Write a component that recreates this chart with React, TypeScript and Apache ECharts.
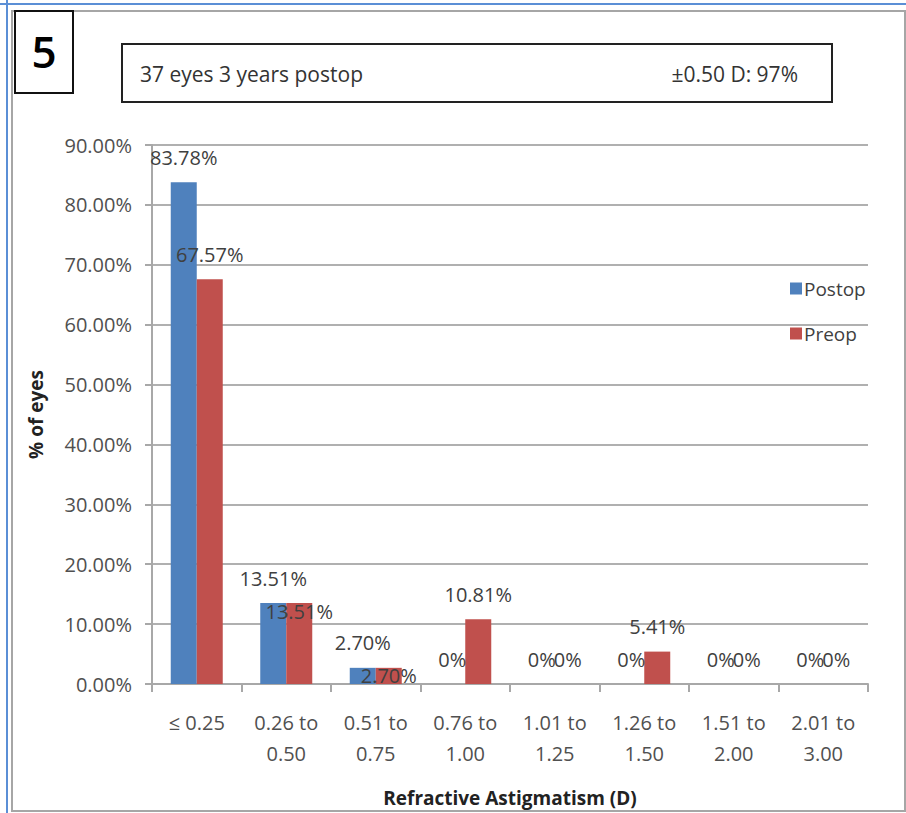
import React, { useEffect, useRef } from "react";
import * as echarts from "echarts";

const categories = [
  "≤ 0.25",
  "0.26 to\n0.50",
  "0.51 to\n0.75",
  "0.76 to\n1.00",
  "1.01 to\n1.25",
  "1.26 to\n1.50",
  "1.51 to\n2.00",
  "2.01 to\n3.00",
];
const postopValues = [83.78, 13.51, 2.7, 0, 0, 0, 0, 0];
const preopValues = [67.57, 13.51, 2.7, 10.81, 0, 5.41, 0, 0];
// Preop labels that sit just inside the bar top instead of above it
const preopInsideLabels = [1, 2];
const yTicks = { min: 0, max: 90, interval: 10 };

const FONT = "'Open Sans', 'Noto Sans', sans-serif";
const TEXT = "#404040";

const pct = (v: number) => (v === 0 ? "0%" : v.toFixed(2) + "%");

export default function App() {
  const ref = useRef<HTMLDivElement>(null);

  useEffect(() => {
    if (!ref.current) return;
    const chart = echarts.init(ref.current, null, { renderer: "svg" });

    const labelBase = {
      show: true,
      position: "top" as const,
      distance: 15,
      fontFamily: FONT,
      fontSize: 20,
      color: TEXT,
      formatter: (p: any) => pct(p.value),
    };

    chart.setOption({
      animation: false,
      backgroundColor: "#ffffff",
      textStyle: { fontFamily: FONT },
      grid: {
        left: 152,
        right: 38,
        top: 145,
        bottom: 129,
        containLabel: false,
        outerBoundsMode: "none",
      },
      legend: {
        orient: "vertical",
        left: 785,
        top: 274,
        itemWidth: 12,
        itemHeight: 12,
        itemGap: 26,
        icon: "rect",
        textStyle: { fontFamily: FONT, fontSize: 19, color: TEXT, padding: [0, 0, 0, -3] },
        data: ["Postop", "Preop"],
      },
      xAxis: {
        type: "category",
        data: categories,
        name: "Refractive Astigmatism (D)",
        nameLocation: "middle",
        nameGap: 104,
        nameTextStyle: { fontFamily: FONT, fontSize: 19, fontWeight: "bold", color: "#222" },
        axisLine: { lineStyle: { color: "#a8a8a8", width: 2 } },
        axisTick: { show: true, length: 8, lineStyle: { color: "#a8a8a8", width: 2 } },
        axisLabel: {
          fontFamily: FONT,
          fontSize: 20,
          color: "#505050",
          margin: 23,
          lineHeight: 31,
          interval: 0,
        },
      },
      yAxis: {
        type: "value",
        min: yTicks.min,
        max: yTicks.max,
        interval: yTicks.interval,
        name: "% of eyes",
        nameLocation: "middle",
        nameGap: 107,
        nameRotate: 90,
        nameTextStyle: { fontFamily: FONT, fontSize: 19, fontWeight: "bold", color: "#222" },
        axisLine: { show: true, lineStyle: { color: "#a8a8a8", width: 2 } },
        axisTick: { show: true, length: 7, lineStyle: { color: "#a8a8a8", width: 2 } },
        splitLine: { lineStyle: { color: "#b0b0b0", width: 2 } },
        axisLabel: {
          fontFamily: FONT,
          fontSize: 20,
          color: "#505050",
          margin: 20,
          formatter: (v: number) => v.toFixed(2) + "%",
        },
      },
      series: [
        {
          name: "Postop",
          type: "bar",
          barWidth: 26,
          barGap: "0%",
          itemStyle: { color: "#4F81BD" },
          label: labelBase,
          data: postopValues,
        },
        {
          name: "Preop",
          type: "bar",
          barWidth: 26,
          barGap: "0%",
          itemStyle: { color: "#C0504D" },
          label: labelBase,
          data: preopValues.map((v, i) =>
            preopInsideLabels.includes(i)
              ? { value: v, label: { position: "insideTop", distance: -2 } }
              : v
          ),
        },
      ],
      graphic: [
        // outer frame lines
        { type: "line", shape: { x1: 7, y1: 0, x2: 7, y2: 813 }, style: { stroke: "#5b8fd6", lineWidth: 2 } },
        { type: "line", shape: { x1: 0, y1: 4, x2: 906, y2: 4 }, style: { stroke: "#5b8fd6", lineWidth: 2 } },
        {
          type: "rect",
          shape: { x: 12, y: 11, width: 893, height: 800 },
          style: { fill: "none", stroke: "#a6a6a6", lineWidth: 2 },
        },
        // panel number box
        {
          type: "rect",
          shape: { x: 15, y: 11, width: 58, height: 82 },
          style: { fill: "#fff", stroke: "#111", lineWidth: 2 },
        },
        {
          type: "text",
          x: 44,
          y: 51,
          style: {
            text: "5",
            fontFamily: FONT,
            fontSize: 44,
            fontWeight: 600,
            fill: "#000",
            align: "center",
            verticalAlign: "middle",
          },
        },
        // summary box
        {
          type: "rect",
          shape: { x: 122, y: 44, width: 710, height: 58 },
          style: { fill: "#fff", stroke: "#222", lineWidth: 2 },
        },
        {
          type: "text",
          x: 140,
          y: 74,
          style: {
            text: "37 eyes 3 years postop",
            fontFamily: FONT,
            fontSize: 21,
            fill: "#333",
            align: "left",
            verticalAlign: "middle",
          },
        },
        {
          type: "text",
          x: 798,
          y: 74,
          style: {
            text: "±0.50 D: 97%",
            fontFamily: FONT,
            fontSize: 21,
            fill: "#333",
            align: "right",
            verticalAlign: "middle",
          },
        },
      ],
    });

    return () => chart.dispose();
  }, []);

  return (
    <div
      ref={ref}
      style={{ position: "absolute", left: 0, top: 0, width: 906, height: 813 }}
    />
  );
}
